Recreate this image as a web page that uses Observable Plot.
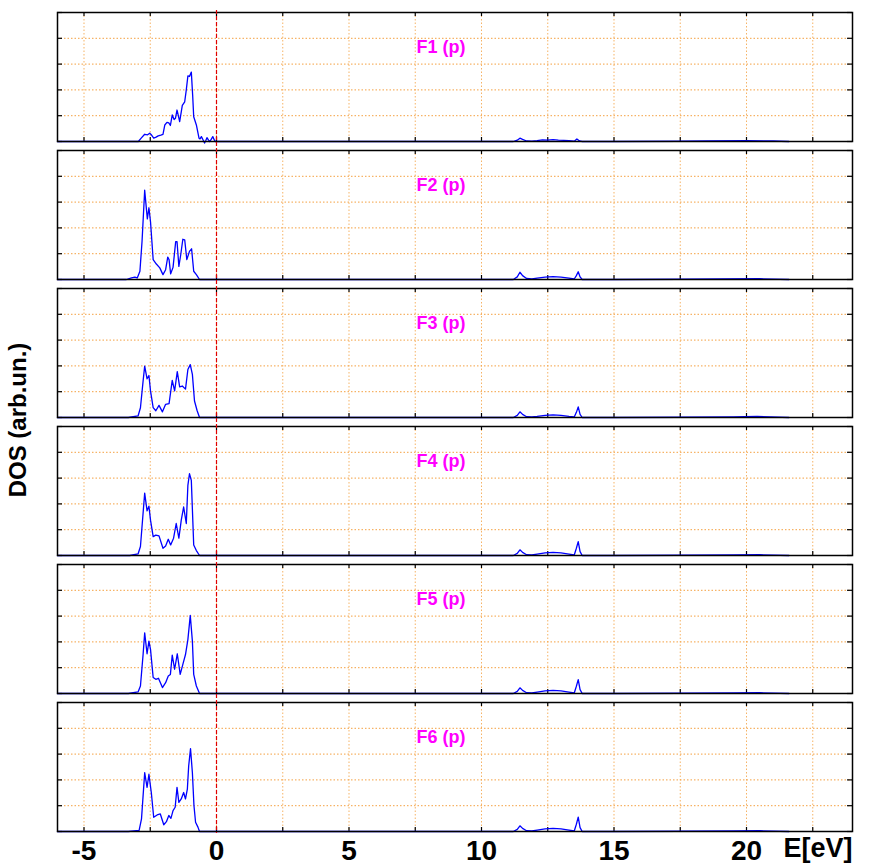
<!DOCTYPE html>
<html><head><meta charset="utf-8">
<script src="https://cdn.jsdelivr.net/npm/d3@7"></script>
<script src="https://cdn.jsdelivr.net/npm/@observablehq/plot@0.6"></script>
<style>
body{margin:0;background:#fff;}
#wrap{position:relative;width:869px;height:865px;}
#wrap svg{position:absolute;left:0;top:0;}
#ylab{position:absolute;left:18px;top:420px;transform:translate(-50%,-50%) rotate(-90deg);font:bold 24px "Liberation Sans",Arial,sans-serif;white-space:nowrap;color:#000;z-index:3;}
</style></head><body>
<div id="wrap"><div id="ylab">DOS (arb.un.)</div></div>
<script>
// ---- data ----
const panels = ["F1", "F2", "F3", "F4", "F5", "F6"];
const orbital = "p";
const xLabelTicks = [-5, 0, 5, 10, 15, 20];
const xGridTicks = [-5, -2.5, 0, 2.5, 5, 7.5, 10, 12.5, 15, 17.5, 20, 22.5];
const yGridTicks = [1, 2, 3, 4];
const yTickMarks = [0, 1, 2, 3, 4, 5];
const fermiLevel = [0];
const xLabelUnit = "E[eV]";
const yLabel = "DOS (arb.un.)";

const dosF1 = [[-6,0],[-2.95,0],[-2.85,0.12],[-2.71,0.28],[-2.6,0.26],[-2.52,0.32],[-2.45,0.25],[-2.37,0.13],[-2.28,0.17],[-2.2,0.22],[-2.1,0.25],[-2.02,0.28],[-1.95,0.64],[-1.87,0.74],[-1.8,0.72],[-1.74,0.62],[-1.67,1.03],[-1.6,0.85],[-1.55,0.9],[-1.49,1.22],[-1.44,1.0],[-1.39,0.77],[-1.33,1.15],[-1.29,1.4],[-1.2,1.54],[-1.14,2.0],[-1.08,2.54],[-1.02,2.52],[-0.95,2.69],[-0.9,1.8],[-0.86,0.96],[-0.76,0.64],[-0.66,0.13],[-0.62,0.1],[-0.57,0.19],[-0.5,0.05],[-0.45,-0.06],[-0.4,0.05],[-0.36,0.15],[-0.3,0.05],[-0.26,0],[-0.2,0.08],[-0.14,0.19],[-0.08,0.05],[-0.04,0],
  [11.2,0],[11.35,0.05],[11.45,0.13],[11.55,0.08],[11.7,0.02],[11.9,0.01],[12.1,0.03],[12.3,0.06],[12.5,0.05],[12.7,0.07],[12.9,0.05],[13.1,0.04],[13.3,0.03],[13.5,0.01],[13.6,0.1],[13.7,0.02],[13.8,0],[15,0],[17.5,0.01],[18.5,0.02],[20,0.03],[21,0.02],[21.6,0]];
const dosF2 = [[-6,0],[-3.4,0],[-3.21,0.06],[-3.08,0.09],[-2.99,0.06],[-2.89,0.32],[-2.81,1.47],[-2.71,3.46],[-2.61,2.35],[-2.55,2.78],[-2.49,2.24],[-2.39,0.77],[-2.27,0.6],[-2.14,0.45],[-2.02,0.19],[-1.92,0.38],[-1.84,0.87],[-1.79,0.77],[-1.73,0.22],[-1.64,0.47],[-1.54,1.47],[-1.49,1.47],[-1.42,0.51],[-1.35,0.96],[-1.27,1.56],[-1.2,1.54],[-1.12,0.77],[-1.02,1.09],[-0.94,1.19],[-0.86,0.32],[-0.76,0.19],[-0.64,0],
  [11.2,0],[11.35,0.1],[11.45,0.28],[11.55,0.15],[11.7,0.04],[11.9,0.02],[12.1,0.05],[12.4,0.09],[12.7,0.11],[13.0,0.09],[13.3,0.05],[13.5,0.02],[13.58,0.15],[13.65,0.3],[13.72,0.1],[13.8,0],[15,0],[17.5,0.01],[19,0.02],[20.5,0.03],[21.6,0]];
const dosF3 = [[-6,0],[-3.33,0],[-2.96,0.06],[-2.87,0.38],[-2.77,1.41],[-2.71,1.99],[-2.62,1.5],[-2.55,1.63],[-2.49,1.03],[-2.39,0.38],[-2.29,0.26],[-2.17,0.47],[-2.04,0.22],[-1.92,0.51],[-1.79,0.54],[-1.67,1.44],[-1.58,1.03],[-1.48,1.78],[-1.39,1.19],[-1.29,1.22],[-1.17,1.1],[-1.08,1.86],[-0.99,2.05],[-0.91,1.67],[-0.83,0.64],[-0.73,0.26],[-0.64,0],
  [11.2,0],[11.35,0.08],[11.45,0.22],[11.55,0.12],[11.7,0.03],[11.9,0.02],[12.1,0.04],[12.4,0.08],[12.7,0.1],[13.0,0.08],[13.3,0.04],[13.5,0.02],[13.58,0.2],[13.65,0.41],[13.72,0.12],[13.8,0],[15,0],[17.5,0.01],[19.5,0.02],[20.4,0.04],[21.6,0]];
const dosF4 = [[-6,0],[-3.27,0],[-2.96,0.06],[-2.87,0.35],[-2.71,2.42],[-2.62,1.73],[-2.55,1.91],[-2.49,1.37],[-2.39,0.73],[-2.29,0.79],[-2.17,0.76],[-2.02,0.28],[-1.92,0.37],[-1.82,0.63],[-1.73,0.41],[-1.62,0.67],[-1.52,1.24],[-1.42,0.67],[-1.33,1.37],[-1.24,1.88],[-1.14,1.24],[-1.08,2.72],[-1.02,3.17],[-0.95,2.91],[-0.86,0.41],[-0.76,0.19],[-0.64,0],
  [11.2,0],[11.35,0.08],[11.45,0.22],[11.55,0.12],[11.7,0.03],[11.9,0.02],[12.1,0.05],[12.4,0.1],[12.7,0.12],[13.0,0.1],[13.3,0.05],[13.5,0.02],[13.58,0.28],[13.65,0.54],[13.72,0.15],[13.8,0],[15,0],[17.5,0.01],[19.5,0.02],[20.5,0.03],[21.6,0]];
const dosF5 = [[-6,0],[-3.33,0],[-2.96,0.06],[-2.87,0.29],[-2.77,1.51],[-2.71,2.35],[-2.62,1.54],[-2.55,2.03],[-2.49,1.71],[-2.39,0.62],[-2.29,0.55],[-2.19,0.59],[-2.04,0.23],[-1.92,0.42],[-1.82,0.68],[-1.74,0.74],[-1.67,1.49],[-1.58,0.94],[-1.48,1.54],[-1.37,0.74],[-1.27,1.13],[-1.17,1.51],[-1.08,2.09],[-0.99,3.03],[-0.91,2.03],[-0.86,0.74],[-0.76,0.29],[-0.64,0],
  [11.2,0],[11.35,0.08],[11.45,0.22],[11.55,0.12],[11.7,0.03],[11.9,0.02],[12.1,0.05],[12.4,0.1],[12.7,0.12],[13.0,0.1],[13.3,0.05],[13.5,0.02],[13.58,0.28],[13.65,0.54],[13.72,0.15],[13.8,0],[15,0],[17.5,0.01],[19.5,0.02],[20.5,0.03],[21.6,0]];
const dosF6 = [[-6,0],[-3.33,0],[-2.92,0.04],[-2.83,0.49],[-2.71,2.28],[-2.62,1.71],[-2.55,2.22],[-2.46,1.51],[-2.37,0.55],[-2.24,0.64],[-2.12,0.68],[-1.99,0.26],[-1.89,0.38],[-1.8,0.62],[-1.72,0.51],[-1.64,0.81],[-1.56,0.94],[-1.49,1.71],[-1.42,1.13],[-1.33,1.26],[-1.24,1.51],[-1.17,1.26],[-1.1,1.64],[-1.05,2.54],[-0.98,3.21],[-0.91,2.28],[-0.85,1.0],[-0.79,0.36],[-0.7,0.17],[-0.64,0],
  [11.2,0],[11.35,0.08],[11.45,0.22],[11.55,0.12],[11.7,0.03],[11.9,0.02],[12.1,0.05],[12.4,0.1],[12.7,0.12],[13.0,0.1],[13.3,0.05],[13.5,0.02],[13.58,0.28],[13.65,0.56],[13.72,0.15],[13.8,0],[15,0],[17.5,0.01],[19.5,0.02],[20.5,0.03],[21.6,0]];

// ---- build table ----
const series = [dosF1, dosF2, dosF3, dosF4, dosF5, dosF6];
const rows = panels.flatMap((p, i) => series[i].map(([e, d]) => ({panel: p, e, d})));

document.getElementById("ylab").textContent = yLabel;

const gridColor = "#f4a040";
const font = '"Liberation Sans", Arial, sans-serif';
const xDomain = [-6, 24];
const margins = {marginLeft: 57, marginRight: 17, marginTop: 10, marginBottom: 32};

const chart = Plot.plot({
  width: 869, height: 865, ...margins,
  style: {fontFamily: font, fontWeight: "bold", fontSize: "28px", background: "white", overflow: "visible", color: "black"},
  x: {domain: xDomain, ticks: xLabelTicks, tickFormat: d => String(d), tickSize: 0, tickPadding: 9, label: null},
  y: {domain: [0, 5], axis: null},
  fy: {domain: panels, axis: null, paddingInner: 0.063, paddingOuter: 0},
  marks: [
    Plot.ruleY(yGridTicks, {stroke: gridColor, strokeDasharray: "1.5,2"}),
    Plot.ruleX(xGridTicks, {stroke: gridColor, strokeOpacity: 0.8, strokeDasharray: "1.5,2"}),
    Plot.ruleX(xGridTicks, {insetTop: 125, stroke: "black", strokeWidth: 1.2}),
    Plot.ruleX(xGridTicks, {insetBottom: 125, stroke: "black", strokeWidth: 1.2}),
    Plot.ruleY(yTickMarks, {insetRight: 790, stroke: "black", strokeWidth: 1.2}),
    Plot.ruleY(yTickMarks, {insetLeft: 790, stroke: "black", strokeWidth: 1.2}),
    Plot.line(rows, {x: "e", y: "d", fy: "panel", stroke: "#0000ff", strokeWidth: 1.3}),
    Plot.frame({stroke: "black", strokeWidth: 1.5}),
    Plot.text(panels, {fy: d => d, text: d => `${d} (${orbital})`, frameAnchor: "top", dx: -14, dy: 28, fill: "#ff00ff", fontSize: 18, fontWeight: "bold"}),
    Plot.text([xLabelUnit], {fy: () => panels[panels.length - 1], frameAnchor: "bottom-right", textAnchor: "end", dx: 0, dy: 25, fontSize: 27, fontWeight: "bold"})
  ]
});
document.getElementById("wrap").appendChild(chart);

// overlay: Fermi level dashed line running through all panels and gaps
const overlay = Plot.plot({
  width: 869, height: 865, ...margins,
  style: {background: "transparent", overflow: "visible"},
  x: {domain: xDomain, axis: null},
  y: {axis: null},
  marks: [Plot.ruleX(fermiLevel, {stroke: "#e00000", strokeDasharray: "4,2", strokeWidth: 1.2})]
});
overlay.style.pointerEvents = "none";
document.getElementById("wrap").appendChild(overlay);
</script>
</body></html>
